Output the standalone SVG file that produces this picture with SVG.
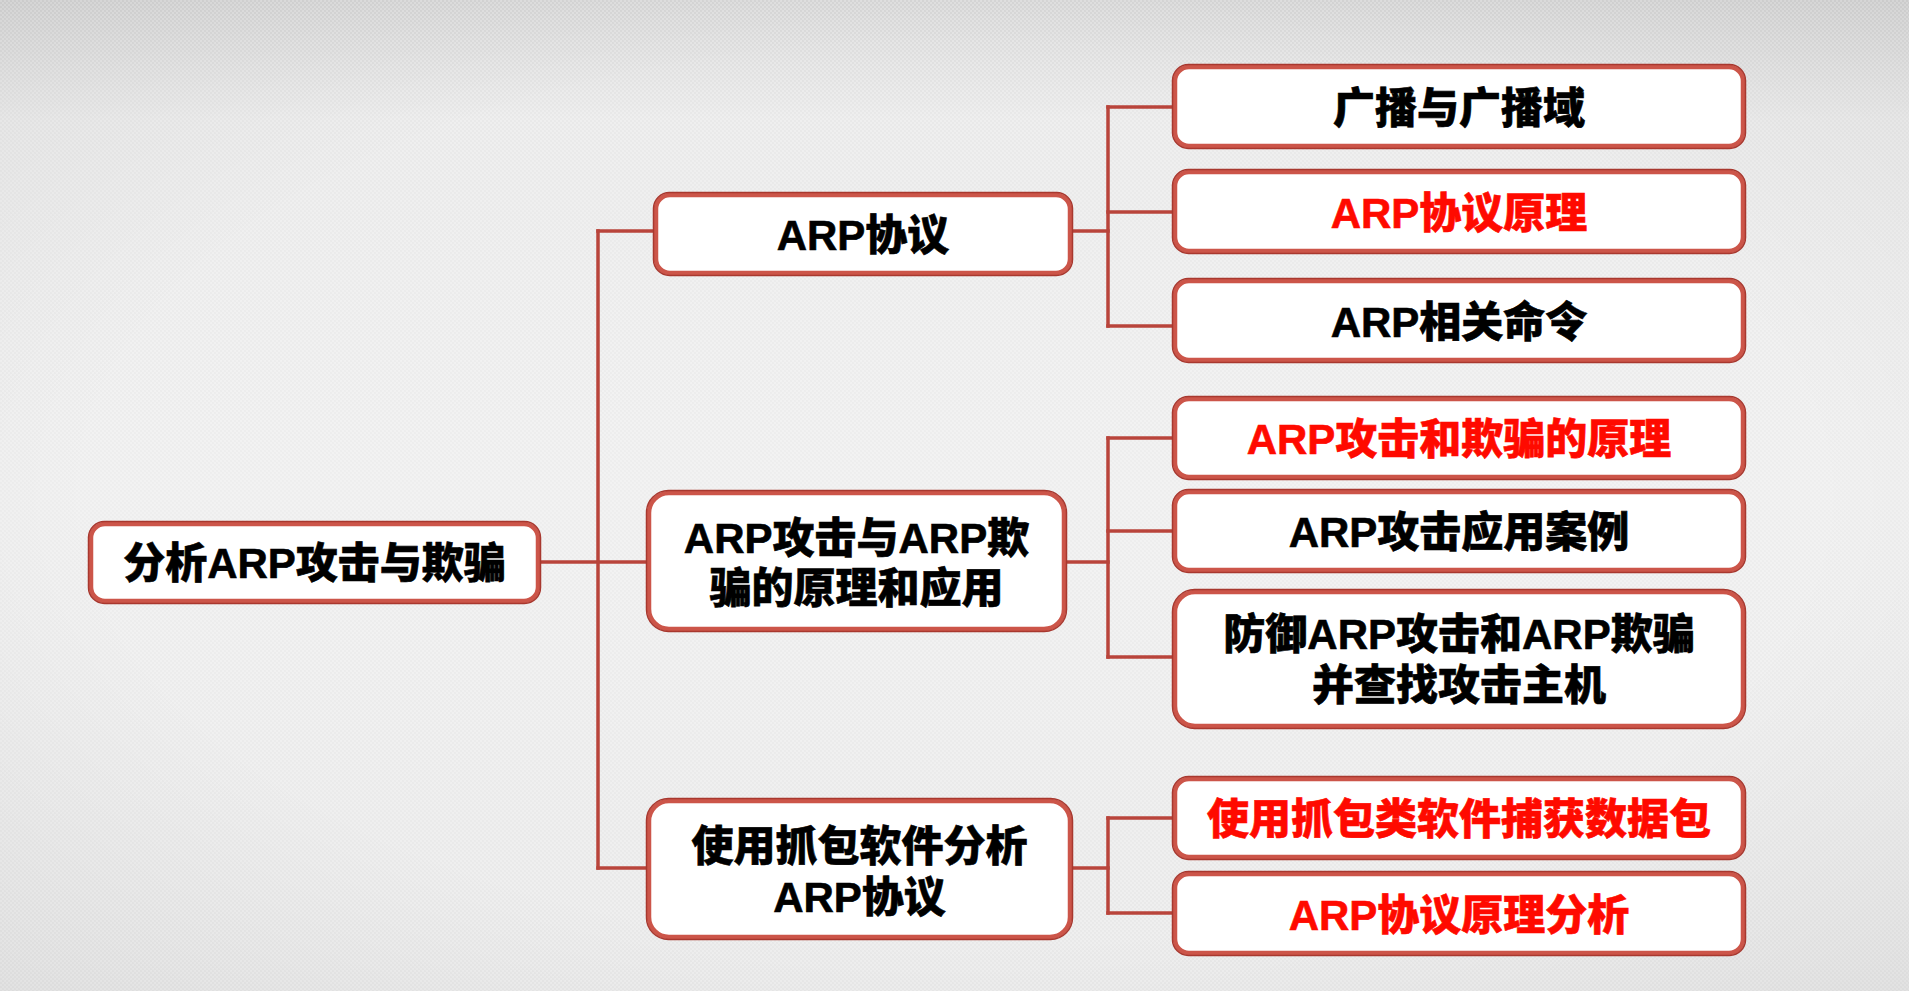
<svg xmlns="http://www.w3.org/2000/svg" width="1909" height="991" viewBox="0 0 1909 991">
<defs>
<linearGradient id="bg" x1="0" y1="0" x2="0" y2="1">
<stop offset="0" stop-color="#d6d6d6"/>
<stop offset="0.12" stop-color="#e9e9e9"/>
<stop offset="0.5" stop-color="#eeeeee"/>
<stop offset="1" stop-color="#e8e8e8"/>
</linearGradient>
<radialGradient id="vig" cx="0.5" cy="0.5" r="0.75">
<stop offset="0.6" stop-color="#000" stop-opacity="0"/>
<stop offset="1" stop-color="#000" stop-opacity="0.06"/>
</radialGradient>
<pattern id="chk" width="4" height="4" patternUnits="userSpaceOnUse">
<rect width="2" height="2" fill="#ffffff" fill-opacity="0.25"/>
<rect x="2" y="2" width="2" height="2" fill="#ffffff" fill-opacity="0.25"/>
</pattern>
<style>
.box{fill:#ffffff;stroke:#cc5549;stroke-width:4.5}
.boxo{fill:none;stroke:#a8382f;stroke-width:1.5}
.ln{fill:none;stroke:#b9443b;stroke-width:3.5;stroke-linecap:square}
.t{font-family:"Liberation Sans","Noto Sans CJK SC",sans-serif;font-weight:900;font-size:42px;text-anchor:middle;fill:#000;stroke:#000;stroke-width:0.6}
.r{fill:#ff0a00;stroke:#ff0a00}
</style>
</defs>
<rect width="1909" height="991" fill="url(#bg)"/>
<rect width="1909" height="991" fill="url(#chk)"/>
<rect width="1909" height="991" fill="url(#vig)"/>

<g id="connectors">
<path class="ln" d="M538 562 H649"/>
<path class="ln" d="M598 231 V868"/>
<path class="ln" d="M598 231 H656"/>
<path class="ln" d="M598 868 H649"/>
<path class="ln" d="M1070 231 H1108"/>
<path class="ln" d="M1108 107 V326"/>
<path class="ln" d="M1108 107 H1175"/>
<path class="ln" d="M1108 212 H1175"/>
<path class="ln" d="M1108 326 H1175"/>
<path class="ln" d="M1064 562 H1108"/>
<path class="ln" d="M1108 438 V657"/>
<path class="ln" d="M1108 438 H1175"/>
<path class="ln" d="M1108 531 H1175"/>
<path class="ln" d="M1108 657 H1175"/>
<path class="ln" d="M1070 868 H1108"/>
<path class="ln" d="M1108 818 V913"/>
<path class="ln" d="M1108 818 H1175"/>
<path class="ln" d="M1108 913 H1175"/>
</g>

<g id="root">
<rect class="box" x="91" y="524" width="447" height="77" rx="14"/>
<rect class="boxo" x="88.5" y="521.5" width="452" height="82" rx="16"/>
<text class="t" x="314.5" y="578">分析ARP攻击与欺骗</text>
</g>

<g id="mid1">
<rect class="box" x="656" y="195" width="414" height="78" rx="14"/>
<rect class="boxo" x="653.5" y="192.5" width="419" height="83" rx="16"/>
<text class="t" x="863" y="250">ARP协议</text>
</g>

<g id="mid2">
<rect class="box" x="649" y="493" width="415" height="136" rx="20"/>
<rect class="boxo" x="646.5" y="490.5" width="420" height="141" rx="22"/>
<text class="t" x="856.5" y="553">ARP攻击与ARP欺</text>
<text class="t" x="856.5" y="603">骗的原理和应用</text>
</g>

<g id="mid3">
<rect class="box" x="649" y="801" width="421" height="136" rx="20"/>
<rect class="boxo" x="646.5" y="798.5" width="426" height="141" rx="22"/>
<text class="t" x="859.5" y="861">使用抓包软件分析</text>
<text class="t" x="859.5" y="912">ARP协议</text>
</g>

<g id="r1">
<rect class="box" x="1175" y="67" width="568" height="79" rx="14"/>
<rect class="boxo" x="1172.5" y="64.5" width="573" height="84" rx="16"/>
<text class="t" x="1459" y="123">广播与广播域</text>
</g>

<g id="r2">
<rect class="box" x="1175" y="172" width="568" height="79" rx="14"/>
<rect class="boxo" x="1172.5" y="169.5" width="573" height="84" rx="16"/>
<text class="t r" x="1459" y="228">ARP协议原理</text>
</g>

<g id="r3">
<rect class="box" x="1175" y="281" width="568" height="79" rx="14"/>
<rect class="boxo" x="1172.5" y="278.5" width="573" height="84" rx="16"/>
<text class="t" x="1459" y="337">ARP相关命令</text>
</g>

<g id="r4">
<rect class="box" x="1175" y="399" width="568" height="78" rx="14"/>
<rect class="boxo" x="1172.5" y="396.5" width="573" height="83" rx="16"/>
<text class="t r" x="1459" y="454">ARP攻击和欺骗的原理</text>
</g>

<g id="r5">
<rect class="box" x="1175" y="492" width="568" height="78" rx="14"/>
<rect class="boxo" x="1172.5" y="489.5" width="573" height="83" rx="16"/>
<text class="t" x="1459" y="547">ARP攻击应用案例</text>
</g>

<g id="r6">
<rect class="box" x="1175" y="592" width="568" height="134" rx="20"/>
<rect class="boxo" x="1172.5" y="589.5" width="573" height="139" rx="22"/>
<text class="t" x="1459" y="649">防御ARP攻击和ARP欺骗</text>
<text class="t" x="1459" y="700">并查找攻击主机</text>
</g>

<g id="r7">
<rect class="box" x="1175" y="779" width="568" height="78" rx="14"/>
<rect class="boxo" x="1172.5" y="776.5" width="573" height="83" rx="16"/>
<text class="t r" x="1459" y="834">使用抓包类软件捕获数据包</text>
</g>

<g id="r8">
<rect class="box" x="1175" y="874" width="568" height="79" rx="14"/>
<rect class="boxo" x="1172.5" y="871.5" width="573" height="84" rx="16"/>
<text class="t r" x="1459" y="930">ARP协议原理分析</text>
</g>
</svg>
